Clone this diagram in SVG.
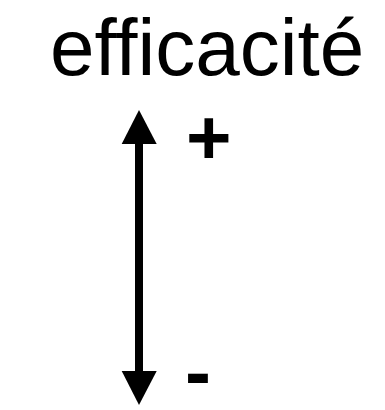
<svg xmlns="http://www.w3.org/2000/svg" width="385" height="410" viewBox="0 0 385 410">
<style>
text { font-family: "Liberation Sans", Arial, sans-serif; fill: #000; }
.big { font-size: 80px; }
.sign { font-size: 78px; font-weight: bold; }
</style>
<rect width="385" height="410" fill="#fff"/>
<g id="title"><text class="big" x="50" y="75">efficacité</text></g>
<g id="connectors">
<rect x="135" y="140" width="8" height="235" fill="#000"/>
<polygon points="139,110 156.7,144 121.7,144" fill="#000"/>
<polygon points="139,405 156.7,371 121.7,371" fill="#000"/>
</g>
<g id="plus"><text class="sign" x="186" y="164">+</text></g>
<g id="minus"><text class="sign" x="185" y="399">-</text></g>
</svg>
